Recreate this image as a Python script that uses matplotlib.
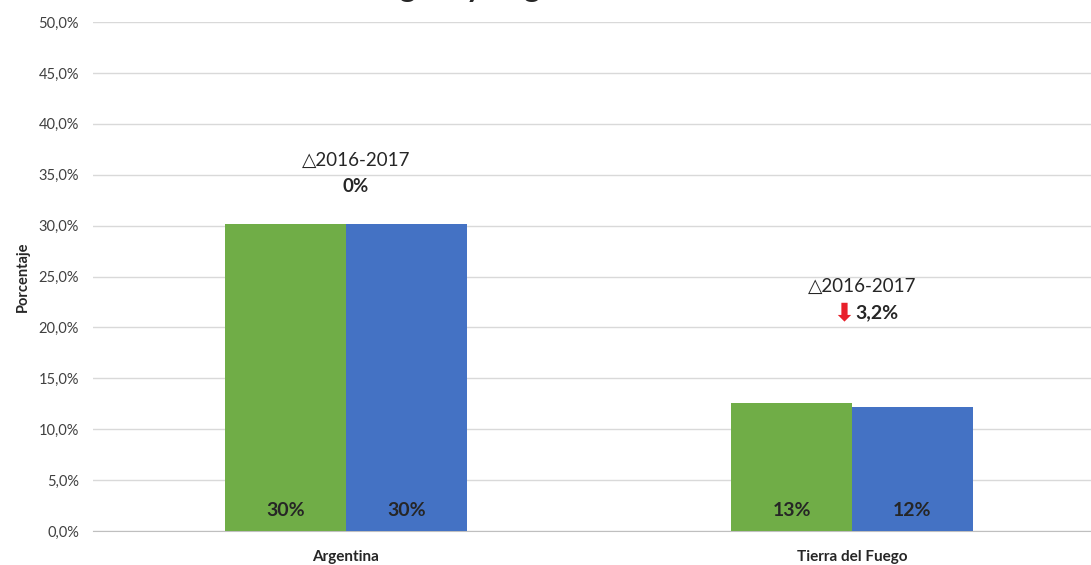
from matplotlib import pyplot as plt
import numpy as np

# data
categories = ['Argentina', 'Tierra del Fuego']
vals_2016 = [30.2, 12.6]
vals_2017 = [30.2, 12.2]
bar_labels_2016 = ['30%', '13%']
bar_labels_2017 = ['30%', '12%']
var_labels = ['0%', '3,2%']
var_down = [False, True]
yticks = np.arange(0, 55, 5)

# where the variation notes sit (in axis units)
note_y = [36.4, 24.0]
note_dy = 2.55

green = '#70ad47'
blue = '#4472c4'
txt = '#262626'

plt.rcParams['font.family'] = ['Lato', 'DejaVu Sans']

fig = plt.figure(figsize=(10.91, 5.65), dpi=100)
ax = fig.add_axes([93/1091, 1-531/565, 1012/1091, (531-22)/565])

x = np.arange(len(categories))
w = 0.239
ax.bar(x - w/2, vals_2016, w, color=green, zorder=3)
ax.bar(x + w/2, vals_2017, w, color=blue, zorder=3)

for i in range(len(categories)):
    ax.text(x[i] - w/2, 2.0, bar_labels_2016[i], ha='center', va='center',
            fontsize=14, fontweight='bold', color=txt, zorder=4)
    ax.text(x[i] + w/2, 2.0, bar_labels_2017[i], ha='center', va='center',
            fontsize=14, fontweight='bold', color=txt, zorder=4)
    xc = x[i] + 0.02
    ax.text(xc, note_y[i], '\u25b32016-2017', ha='center', va='center',
            fontsize=13.5, color=txt, family=['Lato', 'DejaVu Sans'])
    if var_down[i]:
        ax.text(xc + 0.029, note_y[i] - note_dy, var_labels[i], ha='center', va='center',
                fontsize=14, fontweight='bold', color=txt)
        ax.text(xc - 0.036, note_y[i] - note_dy - 0.1, '\u2b07', ha='center', va='center',
                fontsize=18, fontweight='bold', color='#e8202a', family='DejaVu Sans')
    else:
        ax.text(xc, note_y[i] - note_dy, var_labels[i], ha='center', va='center',
                fontsize=13.5, fontweight='bold', color=txt)

ax.set_xlim(-0.5, 1.5)
ax.set_ylim(0, 50)
ax.set_yticks(yticks)
ax.set_yticklabels([('%.1f%%' % v).replace('.', ',') for v in yticks])
ax.set_xticks(x)
ax.set_xticklabels(categories, fontweight='bold', fontsize=11, color=txt)
ax.tick_params(axis='y', length=0, labelsize=10.5, labelcolor='#404040', pad=10)
ax.tick_params(axis='x', length=0, pad=14)
ax.grid(axis='y', color='#d9d9d9', linewidth=1, zorder=0)
for s in ['top', 'right', 'left']:
    ax.spines[s].set_visible(False)
ax.spines['bottom'].set_color('#bfbfbf')
ax.set_ylabel('Porcentaje', fontweight='bold', fontsize=10.5, color=txt, labelpad=6)

# title is mostly cut off at the top of the image
fig.text(0.336, 1.0045, 'Indicadores de región y hogar', ha='center', va='baseline',
         fontsize=22, fontweight='bold', color=txt)

fig.savefig('out.png', dpi=100)
